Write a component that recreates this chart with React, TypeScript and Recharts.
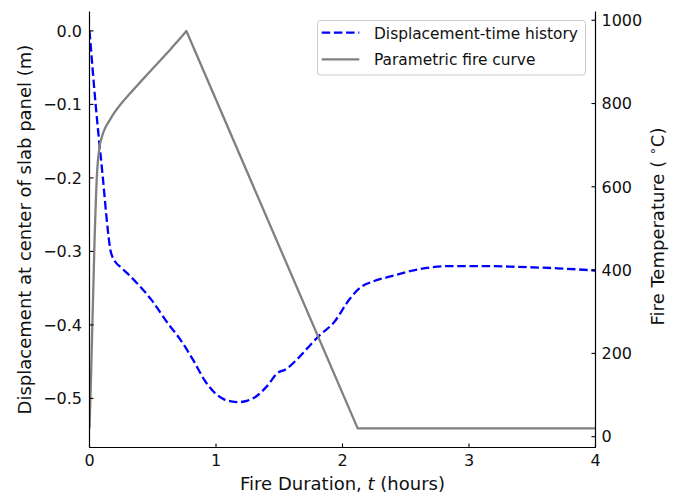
import React from 'react';
import { LineChart, Line, XAxis, YAxis, Legend } from 'recharts';

// ---- data ----
const dispTime = [0, 0.05, 0.105, 0.145, 0.165, 0.2, 0.25, 0.3, 0.38, 0.49, 0.62, 0.71, 0.82, 0.92, 1.0, 1.06, 1.12, 1.18, 1.25, 1.32, 1.4, 1.49, 1.545, 1.64, 1.71, 1.82, 1.93, 2.06, 2.15, 2.24, 2.38, 2.53, 2.69, 2.85, 3.14, 3.38, 3.7, 4.0];
const dispValues = [0, -0.103, -0.199, -0.271, -0.298, -0.313, -0.322, -0.33, -0.344, -0.366, -0.398, -0.418, -0.448, -0.478, -0.494, -0.501, -0.504, -0.505, -0.503, -0.497, -0.484, -0.465, -0.461, -0.447, -0.434, -0.414, -0.397, -0.364, -0.348, -0.341, -0.334, -0.327, -0.322, -0.32, -0.32, -0.321, -0.323, -0.326];

// heating branch (smooth) and cooling branch (straight) of the fire curve
const fireRiseTime = [0, 0.013, 0.04, 0.058, 0.079, 0.1, 0.119, 0.15, 0.185, 0.225, 0.264, 0.32, 0.37, 0.43, 0.5, 0.57, 0.634, 0.7, 0.766];
const fireRiseValues = [20, 153, 472, 624, 695, 722, 738, 755, 773, 790, 805, 824, 841, 861, 884, 907, 928, 951, 974];
const fireFallTime = [0.766, 2.12, 4.0];
const fireFallValues = [974, 20, 20];

const xTicks = [0, 1, 2, 3, 4];
const leftTicks = [0, -0.1, -0.2, -0.3, -0.4, -0.5];
const rightTicks = [0, 200, 400, 600, 800, 1000];
const seriesNames = ['Displacement-time history', 'Parametric fire curve'];
const seriesColors = ['#0000ff', '#808080'];

const dispData = dispTime.map((t, i) => ({ t, d: dispValues[i] }));
const fireRiseData = fireRiseTime.map((t, i) => ({ t, T: fireRiseValues[i] }));
const fireFallData = fireFallTime.map((t, i) => ({ t, T: fireFallValues[i] }));

const FONT = '"DejaVu Sans", Verdana, sans-serif';
const FS_TICK = 16;
const FS_LABEL = 18;
const FS_LEG = 15.4;
const TXT = '#111';
const SPINE = { stroke: '#000', strokeWidth: 1.2 };

const fmtLeft = (v: number) => (Math.abs(v) < 1e-9 ? '0.0' : '\u2212' + Math.abs(v).toFixed(1));

function BottomTick(props: any) {
  const { x, y, payload } = props;
  return (
    <g>
      <line x1={x} x2={x} y1={y} y2={y - 4} stroke="#000" strokeWidth={1.1} />
      <text x={x} y={y + 18.7} textAnchor="middle" fontFamily={FONT} fontSize={FS_TICK} fill={TXT}>
        {payload.value}
      </text>
    </g>
  );
}

function LeftTick(props: any) {
  const { x, y, payload } = props;
  return (
    <g>
      <line x1={x} x2={x + 4} y1={y} y2={y} stroke="#000" strokeWidth={1.1} />
      <text x={x - 7.5} y={y + 5.8} textAnchor="end" fontFamily={FONT} fontSize={FS_TICK} fill={TXT}>
        {fmtLeft(payload.value)}
      </text>
    </g>
  );
}

function RightTick(props: any) {
  const { x, y, payload } = props;
  return (
    <g>
      <line x1={x} x2={x - 4} y1={y} y2={y} stroke="#000" strokeWidth={1.1} />
      <text x={x + 6} y={y + 5.8} textAnchor="start" fontFamily={FONT} fontSize={FS_TICK} fill={TXT}>
        {payload.value}
      </text>
    </g>
  );
}

function XLabel(props: any) {
  const vb = props.viewBox || { x: 0, y: 0, width: 0, height: 0 };
  return (
    <text x={vb.x + vb.width / 2} y={vb.y + 42.5} textAnchor="middle" fontFamily={FONT} fontSize={FS_LABEL} fill={TXT}>
      Fire Duration, <tspan fontStyle="italic">t</tspan> (hours)
    </text>
  );
}

function LeftLabel(props: any) {
  const vb = props.viewBox || { x: 0, y: 0, width: 0, height: 0 };
  const cx = 31;
  const cy = vb.y + vb.height / 2;
  return (
    <text x={cx} y={cy} transform={`rotate(-90 ${cx} ${cy})`} textAnchor="middle" fontFamily={FONT} fontSize={FS_LABEL} fill={TXT}>
      Displacement at center of slab panel (m)
    </text>
  );
}

function RightLabel(props: any) {
  const vb = props.viewBox || { x: 0, y: 0, width: 0, height: 0 };
  const cx = 663.5;
  const cy = vb.y + vb.height / 2 - 3;
  return (
    <text x={cx} y={cy} transform={`rotate(-90 ${cx} ${cy})`} textAnchor="middle" fontFamily={FONT} fontSize={FS_LABEL} fill={TXT}>
      Fire Temperature ( <tspan fontSize={FS_LABEL * 0.7} dy={-7}>{'\u2218'}</tspan><tspan dy={7}>C)</tspan>
    </text>
  );
}

function LegendBox() {
  return (
    <svg width={270} height={56} style={{ display: 'block', overflow: 'visible' }}>
      <rect x={0.5} y={0.5} width={268} height={54.5} rx={3} ry={3} fill="rgba(255,255,255,0.85)" stroke="#cccccc" strokeWidth={1} />
      <line x1={4.7} x2={42.3} y1={12.6} y2={12.6} stroke={seriesColors[0]} strokeWidth={2.3} strokeDasharray="8.5 3.7" />
      <text x={57} y={18.6} fontFamily={FONT} fontSize={FS_LEG} fill={TXT}>{seriesNames[0]}</text>
      <line x1={4.7} x2={42.3} y1={39.3} y2={39.3} stroke={seriesColors[1]} strokeWidth={2.3} />
      <text x={57} y={44.6} fontFamily={FONT} fontSize={FS_LEG} fill={TXT}>{seriesNames[1]}</text>
    </svg>
  );
}

export default function App() {
  return (
    <div style={{ position: 'absolute', left: 0, top: 0, width: 678, height: 494, background: '#fff' }}>
      <LineChart width={678} height={494} margin={{ top: 11.5, right: 0, bottom: 0, left: 0 }}>
        <XAxis
          xAxisId="main"
          dataKey="t"
          type="number"
          domain={[0, 4]}
          ticks={xTicks}
          allowDataOverflow
          height={46.5}
          axisLine={SPINE}
          tickLine={false}
          tickSize={0}
          tickMargin={0}
          tick={<BottomTick />}
          interval={0}
          label={<XLabel />}
        />
        <XAxis
          xAxisId="top"
          orientation="top"
          dataKey="t"
          type="number"
          domain={[0, 4]}
          height={0}
          axisLine={SPINE}
          tick={false}
          tickLine={false}
        />
        <YAxis
          yAxisId="left"
          orientation="left"
          type="number"
          domain={[-0.5668, 0.0264]}
          allowDataOverflow
          ticks={leftTicks}
          width={89.5}
          axisLine={SPINE}
          tickLine={false}
          tickSize={0}
          tickMargin={0}
          tick={<LeftTick />}
          interval={0}
          label={<LeftLabel />}
        />
        <YAxis
          yAxisId="right"
          orientation="right"
          type="number"
          domain={[-26, 1021]}
          allowDataOverflow
          ticks={rightTicks}
          width={82.5}
          axisLine={SPINE}
          tickLine={false}
          tickSize={0}
          tickMargin={0}
          tick={<RightTick />}
          interval={0}
          label={<RightLabel />}
        />
        <Legend
          layout="vertical"
          align="center"
          verticalAlign="middle"
          wrapperStyle={{ left: 317, top: 20, width: 270, height: 56 }}
          content={() => <LegendBox />}
        />
        <Line
          xAxisId="main"
          yAxisId="left"
          data={dispData}
          dataKey="d"
          name={seriesNames[0]}
          type="monotone"
          stroke={seriesColors[0]}
          strokeWidth={2.3}
          strokeDasharray="8.5 3.7"
          dot={false}
          activeDot={false}
          isAnimationActive={false}
        />
        <Line
          xAxisId="main"
          yAxisId="right"
          data={fireRiseData}
          dataKey="T"
          name={seriesNames[1]}
          type="monotone"
          stroke={seriesColors[1]}
          strokeWidth={2.3}
          strokeLinejoin="round"
          dot={false}
          activeDot={false}
          isAnimationActive={false}
        />
        <Line
          xAxisId="main"
          yAxisId="right"
          data={fireFallData}
          dataKey="T"
          name={seriesNames[1]}
          type="linear"
          stroke={seriesColors[1]}
          strokeWidth={2.3}
          strokeLinejoin="round"
          strokeLinecap="round"
          dot={false}
          activeDot={false}
          isAnimationActive={false}
          legendType="none"
        />
      </LineChart>
    </div>
  );
}
